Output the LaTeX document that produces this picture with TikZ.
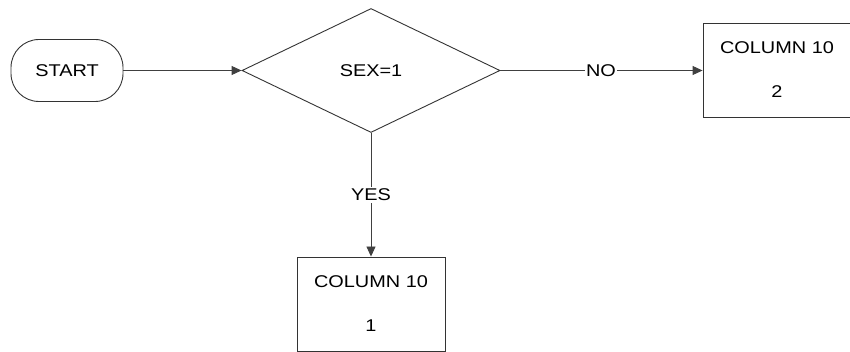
\documentclass[tikz,border=0pt]{standalone}
\usepackage{fontspec}
\setmainfont{Liberation Sans}
\usepackage{graphicx}
\usetikzlibrary{arrows.meta,shapes.geometric}
\newcommand{\wtxt}[1]{\scalebox{1.17}[1]{#1}}
\begin{document}
\begin{tikzpicture}[x=1pt,y=-1pt,
  line width=0.9pt,
  every node/.style={font=\fontsize{17}{20}\selectfont, text=black},
  conn/.style={draw=black!75, -{Triangle[length=10pt,width=9pt]}},
  plainline/.style={draw=black!75},
  termbox/.style={draw=black!80, rounded corners=28pt, minimum width=112pt, minimum height=62pt, inner sep=0pt},
  decbox/.style={draw=black!80, diamond, aspect=2.08, minimum width=258pt, minimum height=124pt, inner sep=0pt},
  procbox/.style={draw=black!80, rectangle, minimum width=148pt, minimum height=94pt, inner sep=0pt, align=center}]
\useasboundingbox (0,0) rectangle (850,352);
\clip (0,0) rectangle (850,352);
\node[termbox] (start) at (67,70.5) {\wtxt{START}};
\node[decbox] (dec) at (371,70.5) {};
\node (dectext) at (371,70.5) {\wtxt{SEX=1}};
\node[procbox] (col2) at (777,70) {\wtxt{COLUMN 10}\\[24pt]\wtxt{2}};
\node[procbox] (col1) at (371,304) {\wtxt{COLUMN 10}\\[24pt]\wtxt{1}};
\draw[conn] (start.east) -- (dec.west);
\node[fill=white, inner sep=1pt] (no) at (601,70.5) {\wtxt{NO}};
\draw[plainline] (dec.east) -- (no.west);
\draw[conn] (no.east) -- (no.east -| col2.west);
\node[fill=white, inner sep=2pt] (yes) at (371,195) {\wtxt{YES}};
\draw[plainline] (dec.south) -- (yes.north);
\draw[conn] (yes.south) -- (col1.north);
\end{tikzpicture}
\end{document}
